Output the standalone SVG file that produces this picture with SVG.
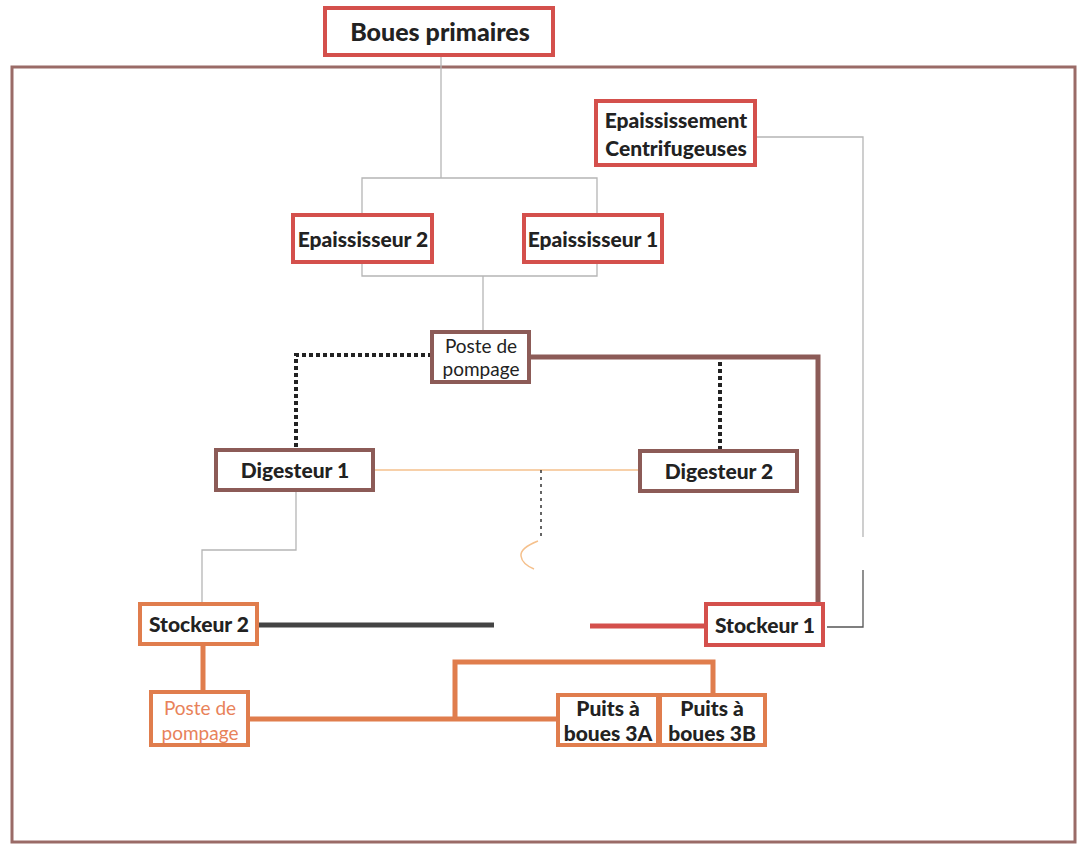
<svg xmlns="http://www.w3.org/2000/svg" width="1078" height="847" viewBox="0 0 1078 847">
<style>
.box{fill:#fff;stroke-width:4}
.red{stroke:#d4504c}
.brown{stroke:#8c5b57}
.orange{stroke:#e07d4d}
.t{font-family:Lato,"Liberation Sans",sans-serif;font-weight:900;fill:#222;text-anchor:middle;font-size:21px}
.big{font-size:25px}
.p{font-family:Lato,"Liberation Sans",sans-serif;font-weight:normal;text-anchor:middle;font-size:19px}
.thin{fill:none;stroke:#b5b5b5;stroke-width:1.3}
</style>
<rect x="12" y="67" width="1063" height="775" fill="none" stroke="#9a6b67" stroke-width="3"/>
<g id="connectors" fill="none">
<polyline class="thin" points="441,55 441,178"/>
<polyline class="thin" points="362,216 362,178 597,178 597,216"/>
<polyline class="thin" points="362,262 362,276 597,276 597,262"/>
<polyline class="thin" points="483,276 483,332"/>
<polyline points="432,355 296,355 296,450" stroke="#222" stroke-width="4" stroke-dasharray="4,3"/>
<polyline points="720,362 720,451" stroke="#222" stroke-width="4" stroke-dasharray="4,3"/>
<polyline points="529,357 818,357 818,602" stroke="#8c5b57" stroke-width="5"/>
<line x1="373" y1="470" x2="640" y2="470" stroke="#f5c08c" stroke-width="1.5"/>
<line x1="541" y1="470" x2="541" y2="536" stroke="#333" stroke-width="1.5" stroke-dasharray="3,4"/>
<path d="M538,541 Q520,548 521,556 Q522,564 534,569" stroke="#f5c08c" stroke-width="1.5"/>
<polyline class="thin" points="296,490 296,550 202,550 202,604"/>
<polyline class="thin" points="755,137 863,137 863,537"/>
<polyline points="863,570 863,627 827,627" stroke="#555" stroke-width="1.3"/>
<line x1="259" y1="625" x2="494" y2="625" stroke="#444" stroke-width="5"/>
<line x1="590" y1="626" x2="706" y2="626" stroke="#d4504c" stroke-width="5"/>
<line x1="203" y1="644" x2="203" y2="694" stroke="#e07d4d" stroke-width="5"/>
<line x1="248" y1="719" x2="558" y2="719" stroke="#e07d4d" stroke-width="5"/>
<polyline points="455,719 455,662 713,662 713,695" stroke="#e07d4d" stroke-width="5"/>
</g>
<g id="boues-primaires"><rect class="box red" x="325" y="8" width="228" height="47"/><text class="t big" x="440" y="41">Boues primaires</text></g>
<g id="epaississement-centrifugeuses"><rect class="box red" x="596" y="101" width="159" height="64"/><text class="t" x="676" y="128">Epaississement</text><text class="t" x="676" y="156">Centrifugeuses</text></g>
<g id="epaississeur-2"><rect class="box red" x="293" y="215" width="139" height="47"/><text class="t" x="363" y="247">Epaississeur 2</text></g>
<g id="epaississeur-1"><rect class="box red" x="524" y="215" width="138" height="47"/><text class="t" x="593" y="247">Epaississeur 1</text></g>
<g id="poste-pompage-1"><rect class="box brown" x="432" y="332" width="97" height="50"/><text class="p" x="481" y="353" fill="#222">Poste de</text><text class="p" x="481" y="376" fill="#222">pompage</text></g>
<g id="digesteur-1"><rect class="box brown" x="216" y="450" width="157" height="40"/><text class="t" x="295" y="478">Digesteur 1</text></g>
<g id="digesteur-2"><rect class="box brown" x="640" y="451" width="157" height="40"/><text class="t" x="719" y="479">Digesteur 2</text></g>
<g id="stockeur-2"><rect class="box orange" x="140" y="604" width="117" height="40"/><text class="t" x="199" y="632">Stockeur 2</text></g>
<g id="stockeur-1"><rect class="box red" x="706" y="604" width="117" height="41"/><text class="t" x="765" y="633">Stockeur 1</text></g>
<g id="poste-pompage-2"><rect class="box orange" x="151" y="692" width="97" height="53"/><text class="p" x="200" y="715" fill="#e8825a">Poste de</text><text class="p" x="200" y="740" fill="#e8825a">pompage</text></g>
<g id="puits-3a"><rect class="box orange" x="558" y="695" width="100" height="50"/><text class="t" x="608" y="716">Puits à</text><text class="t" x="608" y="741">boues 3A</text></g>
<g id="puits-3b"><rect class="box orange" x="660" y="695" width="105" height="50"/><text class="t" x="712" y="716">Puits à</text><text class="t" x="712" y="741">boues 3B</text></g>
</svg>
